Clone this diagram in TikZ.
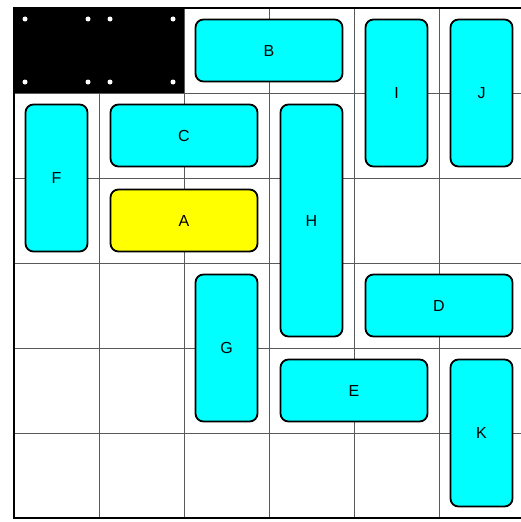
\documentclass[tikz,border=0pt]{standalone}
\usepackage{fontspec}
\setmainfont{Liberation Sans}
\definecolor{carcyan}{RGB}{0,255,255}
\definecolor{caryellow}{RGB}{255,255,0}

\begin{document}
\begin{tikzpicture}[
  x=85pt, y=-85pt,
  car/.style={
    draw=black,
    line width=1.8pt,
    rounded corners=8pt,
    fill=carcyan,
    inner sep=0pt,
    font=\fontsize{16}{19}\selectfont
  },
  horiz/.style={car, minimum width=147pt, minimum height=62pt},
  vert/.style={car, minimum width=62pt, minimum height=147pt},
  long/.style={car, minimum width=62pt, minimum height=232pt},
  target/.style={horiz, fill=caryellow},
  gridline/.style={draw=black!65, line width=0.9pt},
  wall/.style={fill=black}
]
  \useasboundingbox (-14pt,8pt) rectangle (507pt,-514pt);

  % board
  \foreach \i in {1,...,5} {
    \draw[gridline] (\i,0) -- (\i,6);
    \draw[gridline] (0,\i) -- (6,\i);
  }
  \fill[wall] (0,0) rectangle (2,1);
  \foreach \c in {0,1}
    \foreach \dx in {11,74}
      \foreach \dy in {11,74}
        \fill[white, xshift=\c*85pt] (\dx pt,-\dy pt) circle (2.5pt);
  \draw[line width=2pt] (0,0) rectangle (6,6);

  % cars
  \node[horiz] (B) at (3,0.5) {B};
  \node[vert] (I) at (4.5,1) {I};
  \node[vert] (J) at (5.5,1) {J};
  \node[vert] (F) at (0.5,2) {F};
  \node[horiz] (C) at (2,1.5) {C};
  \node[target] (A) at (2,2.5) {A};
  \node[long] (H) at (3.5,2.5) {H};
  \node[horiz] (D) at (5,3.5) {D};
  \node[vert] (G) at (2.5,4) {G};
  \node[horiz] (E) at (4,4.5) {E};
  \node[vert] (K) at (5.5,5) {K};
\end{tikzpicture}
\end{document}
